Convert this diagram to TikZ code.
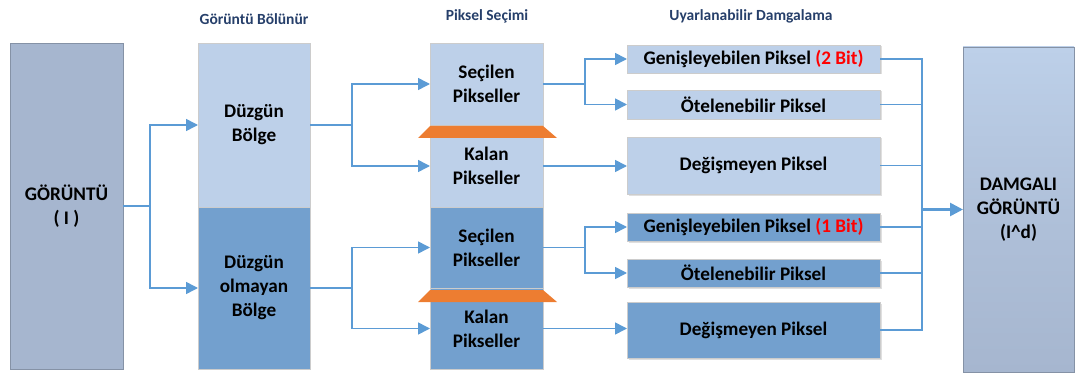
\documentclass[tikz,border=0pt]{standalone}
\usepackage{fontspec}
\setmainfont{Carlito}
\definecolor{dgimg}{HTML}{A6B6CF}
\definecolor{dglight}{HTML}{BDD0E9}
\definecolor{dgdark}{HTML}{73A0CE}
\definecolor{dgline}{HTML}{5B9BD5}
\definecolor{dgorange}{HTML}{ED7D31}
\definecolor{dgtitle}{HTML}{263F6A}
\usetikzlibrary{arrows.meta, shadows}
\newcommand{\bxfont}{\fontsize{19.2}{24}\selectfont\bfseries}
\newcommand{\ttlfont}{\fontsize{15.5}{18}\selectfont\bfseries}

\begin{document}
\begin{tikzpicture}[x=1pt, y=-1pt,
    box/.style={draw=gray!40, line width=0.8pt, inner sep=0pt, outer sep=0pt,
                anchor=north west, align=center, font=\bxfont, text=black},
    lbox/.style={box, fill=dglight},
    dbox/.style={box, fill=dgdark},
    sbox/.style={drop shadow={shadow xshift=1.5pt, shadow yshift=-1.5pt, opacity=0.25}},
    ttl/.style={font=\ttlfont, text=dgtitle},
    conn/.style={draw=dgline, line width=1.6pt},
    arr/.style={conn, -{Triangle[length=12pt, width=12pt]}},
  ]
    \useasboundingbox (0,0) rectangle (1075,374);
    % column titles
    \node[ttl] (t1) at (254,19) {Görüntü Bölünür};
    \node[ttl] (t2) at (487,16) {Piksel Seçimi};
    \node[ttl] (t3) at (751,16) {Uyarlanabilir Damgalama};

    % input image
    \node[box, fill=dgimg, draw=dgimg!80!black, minimum width=113pt, minimum height=326pt] (img) at (10,43) {GÖRÜNTÜ\\( I )};

    % regions
    \node[lbox, minimum width=112pt, minimum height=164pt] (reg1) at (198,43) {Düzgün\\Bölge};
    \node[dbox, minimum width=112pt, minimum height=162pt] (reg2) at (198,207) {Düzgün\\olmayan\\Bölge};

    % pixel selection
    \node[lbox, minimum width=113pt, minimum height=82pt] (sel1) at (430,43) {Seçilen\\Pikseller};
    \node[lbox, minimum width=113pt, minimum height=82pt] (kal1) at (430,125) {Kalan\\Pikseller};
    \node[dbox, minimum width=113pt, minimum height=81pt] (sel2) at (430,207) {Seçilen\\Pikseller};
    \node[dbox, minimum width=113pt, minimum height=81pt] (kal2) at (430,288) {Kalan\\Pikseller};
    \fill[dgorange] (430,126) -- (543,126) -- (557,138) -- (418,138) -- cycle;
    \fill[dgorange] (430,290) -- (543,290) -- (557,302) -- (418,302) -- cycle;

    % embedding
    \node[lbox, sbox, minimum width=253pt, minimum height=28pt] (gen1) at (627,45) {Genişleyebilen Piksel \textcolor{red}{(2 Bit)}};
    \node[lbox, sbox, minimum width=253pt, minimum height=29pt] (ote1) at (627,90) {Ötelenebilir Piksel};
    \node[lbox, sbox, minimum width=253pt, minimum height=57pt] (deg1) at (627,137) {Değişmeyen Piksel};
    \node[dbox, sbox, minimum width=253pt, minimum height=28pt] (gen2) at (627,213) {Genişleyebilen Piksel \textcolor{red}{(1 Bit)}};
    \node[dbox, sbox, minimum width=253pt, minimum height=28pt] (ote2) at (627,259) {Ötelenebilir Piksel};
    \node[dbox, sbox, minimum width=253pt, minimum height=56pt] (deg2) at (627,302) {Değişmeyen Piksel};

    % output image
    \node[box, top color=dglight, bottom color=dgimg, middle color=dgimg!60!dglight, draw=dgimg!80!black,
          minimum width=111pt, minimum height=325pt] (out) at (963,47) {DAMGALI\\GÖRÜNTÜ\\(I\^{}d)};

    % connectors
    \draw[conn] (img.east) -- ++(27,0) coordinate (s0);
    \draw[arr] (s0) |- (reg1.west);
    \draw[arr] (s0) |- (reg2.west);
    \draw[conn] (reg1.east) -- ++(42,0) coordinate (s1);
    \draw[arr] (s1) |- (sel1.west);
    \draw[arr] (s1) |- (kal1.west);
    \draw[conn] (reg2.east) -- ++(42,0) coordinate (s2);
    \draw[arr] (s2) |- (sel2.west);
    \draw[arr] (s2) |- (kal2.west);
    \draw[conn] (sel1.east) -- ++(42,0) coordinate (s3);
    \draw[arr] (s3) |- (gen1.west);
    \draw[arr] (s3) |- (ote1.west);
    \draw[arr] (kal1.east) -- (kal1.east -| deg1.west);
    \draw[conn] (sel2.east) -- ++(42,0) coordinate (s4);
    \draw[arr] (s4) |- (gen2.west);
    \draw[arr] (s4) |- (ote2.west);
    \draw[arr] (kal2.east) -- (kal2.east -| deg2.west);

    \coordinate (bus) at (922,0);
    \draw[conn] (gen1.east) -- (gen1.east -| bus) -- (deg2.east -| bus) -- (deg2.east);
    \draw[conn] (ote1.east) -- (ote1.east -| bus);
    \draw[conn] (deg1.east) -- (deg1.east -| bus);
    \draw[conn] (gen2.east) -- (gen2.east -| bus);
    \draw[conn] (ote2.east) -- (ote2.east -| bus);
    \draw[arr, line width=2.6pt, -{Triangle[length=13pt, width=13pt]}] (out.west -| bus) -- (out.west);
  \end{tikzpicture}
\end{document}
